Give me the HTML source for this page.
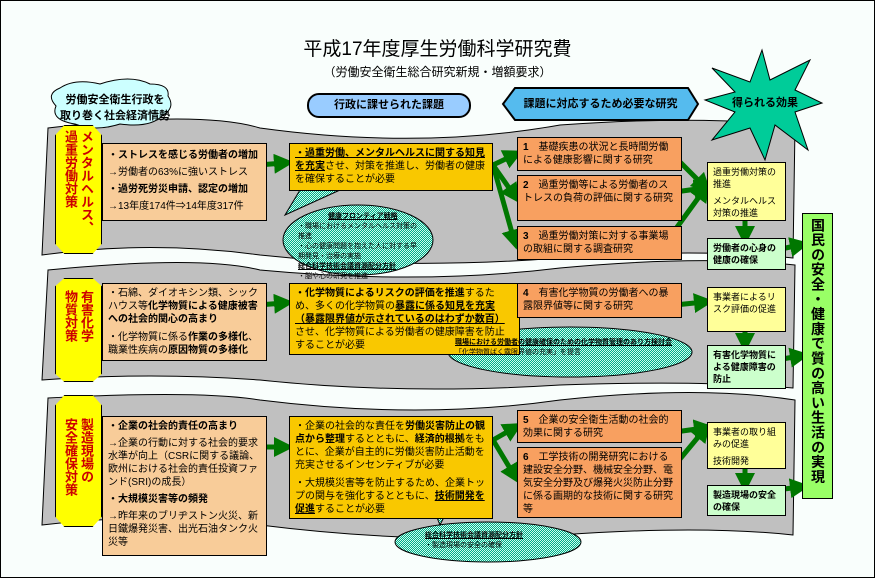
<!DOCTYPE html>
<html><head><meta charset="utf-8"><style>
body{margin:0;width:875px;height:578px;overflow:hidden;background:#fff;font-family:"Liberation Sans","Noto Sans CJK JP",sans-serif;}
#c{position:absolute;left:0;top:0;width:873px;height:576px;border:1px solid #000;background:#f9fefc;}
.a{position:absolute;box-sizing:border-box;font-size:10px;line-height:14px;color:#000;overflow:hidden;}
.bx{border:1px solid #000;padding:3px 5px;}
.pe{background:#f8cc99}.ye{background:#f9c800}.or{background:#f8a060}.ly{background:#ffff99}.lg{background:#ccffcc}
b{font-weight:bold}u{text-decoration:underline}
.oct{position:absolute;background:#ffff00;border:1px solid #000;clip-path:polygon(20% 0,80% 0,100% 8%,100% 92%,80% 100%,20% 100%,0 92%,0 8%);}
.vt{position:absolute;writing-mode:vertical-rl;color:#cc0000;font-weight:bold;font-size:13px;line-height:16px;}
</style></head><body><div id="c"></div>
<svg width="875" height="578" style="position:absolute;left:0;top:0">
<defs><pattern id="p" width="2" height="2" patternUnits="userSpaceOnUse"><rect width="2" height="2" fill="#00aa88"/><rect width="1" height="1" fill="#ccffee"/><rect x="1" y="1" width="1" height="1" fill="#ccffee"/></pattern>
<marker id="m" markerWidth="4" markerHeight="4" refX="2" refY="2" orient="auto"><path d="M0,0 L4,2 L0,4z" fill="#007700"/></marker></defs>
<g fill="#c0c0c0" stroke="#000" stroke-width="1">
<path d="M48,128 Q200,110 260,128 Q420,150 560,125 Q700,115 795,126 L793,258 Q700,248 560,258 Q400,270 260,255 Q150,240 42,255Z"/>
<path d="M48,270 Q200,255 260,270 Q420,285 560,268 Q700,255 795,265 L793,388 Q700,380 560,385 Q400,395 260,380 Q150,372 42,380Z"/>
<path d="M48,398 Q200,390 260,400 Q420,420 560,400 Q700,385 795,400 L793,535 Q700,525 560,535 Q420,545 260,525 Q150,512 42,525Z"/>
</g>
<path d="M60,88 Q75,78 100,84 Q130,74 150,84 Q170,84 168,96 Q176,108 162,116 Q150,128 120,124 Q95,132 75,124 Q50,120 56,106 Q45,94 60,88Z" fill="#ccffff" stroke="#000"/>
<rect x="308" y="94" width="162" height="23" rx="11" fill="#99ccff" stroke="#000" stroke-width="2"/>
<polygon points="503,104 515,88 688,88 698,104 688,120 515,120" fill="#55bbee" stroke="#000" stroke-width="2"/>
<polygon points="762,50 770,80 810,60 795,90 822,103 795,112 808,150 775,125 765,160 750,128 712,140 735,112 705,100 735,92 712,68 750,82" fill="#00cc99" stroke="#000"/>
<g stroke="#000"><polygon points="300,190 340,190 285,215" fill="url(#p)"/>
<ellipse cx="358" cy="240" rx="75" ry="35" fill="url(#p)"/>
<ellipse cx="570" cy="352" rx="122" ry="25" fill="url(#p)"/><polygon points="460,330 480,330 470,345" fill="url(#p)"/>
<ellipse cx="488" cy="542" rx="93" ry="20" fill="url(#p)"/><polygon points="432,505 450,505 440,525" fill="url(#p)"/></g>
<g stroke="#007700" stroke-width="5" marker-end="url(#m)" fill="none">
<path d="M258,165 L284,163"/><path d="M258,305 L284,303"/><path d="M258,447 L284,447"/>
<path d="M493,165 L514,155"/><path d="M493,165 L514,195"/><path d="M493,165 L514,240"/>
<path d="M495,305 L514,300"/>
<path d="M493,440 L514,428"/><path d="M493,440 L514,475"/>
<path d="M675,157 L704,186"/><path d="M675,192 L704,188"/><path d="M675,230 L704,190"/>
<path d="M675,305 L704,302"/><path d="M675,432 L704,428"/><path d="M675,465 L704,430"/>
<path d="M745,220 L745,236"/><path d="M745,331 L745,343"/><path d="M745,468 L745,483"/>
<path d="M776,250 L800,245"/><path d="M776,360 L800,356"/><path d="M776,490 L800,487"/></g>
</svg>
<div class="a" style="left:0;top:38px;width:875px;text-align:center;font-size:19px;line-height:24px">平成17年度厚生労働科学研究費</div>
<div class="a" style="left:0;top:65px;width:875px;text-align:center;font-size:12px">（労働安全衛生総合研究新規・増額要求）</div>
<div class="a" style="left:60px;top:92px;width:110px;text-align:center;font-weight:bold;font-size:11px;line-height:16px">労働安全衛生行政を<br>取り巻く社会経済情勢</div>
<div class="a" style="left:308px;top:98px;width:162px;text-align:center;font-weight:bold;font-size:11px">行政に課せられた課題</div>
<div class="a" style="left:503px;top:97px;width:195px;text-align:center;font-weight:bold;font-size:11px">課題に対応するため必要な研究</div>
<div class="a" style="left:720px;top:96px;width:90px;text-align:center;font-weight:bold;font-size:11px">得られる効果</div>
<div class="oct" style="left:55px;top:125px;width:45px;height:127px"></div>
<div class="vt" style="left:62px;top:130px;height:118px">メンタルヘルス、<br>過重労働対策</div>
<div class="oct" style="left:55px;top:278px;width:45px;height:102px"></div>
<div class="vt" style="left:62px;top:290px;height:80px">有害化学<br>物質対策</div>
<div class="oct" style="left:55px;top:395px;width:45px;height:130px"></div>
<div class="vt" style="left:62px;top:418px;height:100px">製造現場の<br>安全確保対策</div>
<div class="a bx pe" style="left:102px;top:143px;width:165px;height:78px;line-height:17px"><b>・ストレスを感じる労働者の増加</b><br>→労働者の63%に強いストレス<br><b>・過労死労災申請、認定の増加</b><br>→13年度174件⇒14年度317件</div>
<div class="a bx pe" style="left:102px;top:283px;width:165px;height:78px;line-height:13px"><span>・石綿、ダイオキシン類、シックハウス等<b>化学物質による健康被害への社会的関心の高まり</b></span><br><span style="display:block;margin-top:5px">・化学物質に係る<b>作業の多様化</b>、職業性疾病の<b>原因物質の多様化</b></span></div>
<div class="a bx pe" style="left:102px;top:416px;width:165px;height:140px;line-height:13px"><b>・企業の社会的責任の高まり</b><br><span style="display:block;margin-top:4px">→企業の行動に対する社会的要求水準が向上（CSRに関する議論、欧州における社会的責任投資ファンド(SRI)の成長）</span><b style="display:block;margin-top:4px">・大規模災害等の頻発</b><span style="display:block;margin-top:4px">→昨年来のブリヂストン火災、新日鐵爆発災害、出光石油タンク火災等</span></div>
<div class="a bx ye" style="left:289px;top:143px;width:204px;height:48px;line-height:13px"><b><u>・過重労働、メンタルヘルスに関する知見を充実</u></b>させ、対策を推進し、労働者の健康を確保することが必要</div>
<div class="a bx ye" style="left:289px;top:283px;width:231px;height:72px;line-height:13px"><b>・化学物質によるリスクの評価を推進</b>するため、多くの化学物質の<b><u>暴露に係る知見を充実（暴露限界値が示されているのはわずか数百）</u></b>させ、化学物質による労働者の健康障害を防止することが必要</div>
<div class="a bx ye" style="left:289px;top:416px;width:204px;height:103px;line-height:13px">・企業の社会的な責任を<b>労働災害防止の観点から整理</b>するとともに、<b>経済的根拠</b>をもとに、企業が自主的に労働災害防止活動を充実させるインセンティブが必要<span style="display:block;margin-top:5px">・大規模災害等を防止するため、企業トップの関与を強化するとともに、<b><u>技術開発を促進</u></b>することが必要</span></div>
<div class="a" style="left:298px;top:212px;width:122px;font-size:7px;line-height:10px"><b><u style="margin-left:30px">健康フロンティア戦略</u></b><br>・職場におけるメンタルヘルス対策の推進<br>・心の健康問題を抱えた人に対する早期発見・治療の実施<br><b><u>総合科学技術会議資源配分方針</u></b><br>・脳や心の研究を推進</div>
<div class="a" style="left:455px;top:338px;width:230px;font-size:7px;line-height:10px"><b><u>職場における労働者の健康確保のための化学物質管理のあり方検討会</u></b><br>「化学物質ばく露限界値の充実」を提言</div>
<div class="a" style="left:425px;top:531px;width:140px;font-size:7px;line-height:10px"><b><u>総合科学技術会議資源配分方針</u></b><br>・製造現場の安全の確保</div>
<div class="a bx or" style="left:517px;top:137px;width:165px;height:34px;line-height:13px"><b>1</b>　基礎疾患の状況と長時間労働による健康影響に関する研究</div>
<div class="a bx or" style="left:517px;top:175px;width:165px;height:46px;line-height:13px"><b>2</b>　過重労働等による労働者のストレスの負荷の評価に関する研究</div>
<div class="a bx or" style="left:517px;top:226px;width:165px;height:34px;line-height:13px"><b>3</b>　過重労働対策に対する事業場の取組に関する調査研究</div>
<div class="a bx or" style="left:517px;top:283px;width:165px;height:35px;line-height:13px"><b>4</b>　有害化学物質の労働者への暴露限界値等に関する研究</div>
<div class="a bx or" style="left:517px;top:410px;width:165px;height:33px;line-height:13px"><b>5</b>　企業の安全衛生活動の社会的効果に関する研究</div>
<div class="a bx or" style="left:517px;top:447px;width:165px;height:71px;line-height:13px"><b>6</b>　工学技術の開発研究における建設安全分野、機械安全分野、電気安全分野及び爆発火災防止分野に係る画期的な技術に関する研究等</div>
<div class="a bx ly" style="left:707px;top:162px;width:79px;height:59px;font-size:9px;line-height:12px">過重労働対策の推進<br><span style="display:block;margin-top:5px">メンタルヘルス対策の推進</span></div>
<div class="a bx ly" style="left:707px;top:287px;width:79px;height:45px;font-size:9px;line-height:12px">事業者によるリスク評価の促進</div>
<div class="a bx ly" style="left:707px;top:422px;width:79px;height:47px;font-size:9px;line-height:12px">事業者の取り組みの促進<br><span style="display:block;margin-top:5px">技術開発</span></div>
<div class="a bx lg" style="left:707px;top:238px;width:79px;height:32px;font-size:9px;line-height:12px;font-weight:bold">労働者の心身の健康の確保</div>
<div class="a bx lg" style="left:707px;top:345px;width:79px;height:44px;font-size:9px;line-height:12px;font-weight:bold">有害化学物質による健康障害の防止</div>
<div class="a bx lg" style="left:707px;top:485px;width:79px;height:31px;font-size:9px;line-height:12px;font-weight:bold">製造現場の安全の確保</div>
<div class="a" style="left:802px;top:213px;width:31px;height:286px;background:#99ff66;border:1px solid #000;writing-mode:vertical-rl;font-weight:bold;font-size:14px;line-height:29px;letter-spacing:0.8px;padding-top:4px;overflow:visible">国民の安全・健康で質の高い生活の実現</div>
</body></html>
